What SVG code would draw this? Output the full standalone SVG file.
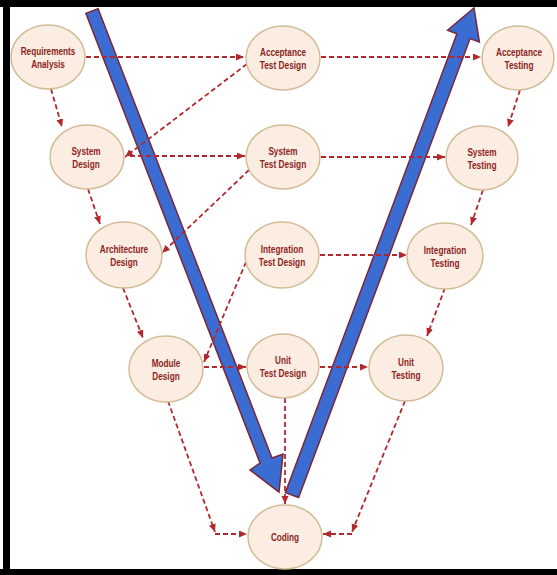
<svg xmlns="http://www.w3.org/2000/svg" width="557" height="575" viewBox="0 0 557 575">
<style>
.node ellipse{fill:#fbede2;stroke:#d2bd98;stroke-width:1.5}
.node text{font-family:"Liberation Sans",Arial,sans-serif;font-weight:bold;font-size:10px;fill:#8e1f22;text-anchor:middle}
.conn path{fill:none;stroke:#b3282c;stroke-width:1.8;stroke-dasharray:5 3;marker-end:url(#ah)}
.big{fill:#3a6cd2;stroke:#7a2636;stroke-width:1.5;stroke-linejoin:miter}
</style>
<defs>
<marker id="ah" markerUnits="userSpaceOnUse" markerWidth="9" markerHeight="8" refX="8" refY="3.5" orient="auto">
<path d="M0,0 L8,3.5 L0,7 z" fill="#b3282c"/>
</marker>
</defs>
<rect x="0" y="0" width="557" height="575" fill="#ffffff"/>
<g id="frame" fill="#000">
<rect x="0" y="0" width="557" height="7"/>
<rect x="3" y="0" width="7" height="575"/>
<rect x="0" y="569" width="557" height="6"/>
</g>
<g id="flow-arrows">
<polygon id="down-arrow" class="big" points="98.1,8.7 272,458 283,454 279,492 250,470 260,463 85.9,13.4"/>
<polygon id="up-arrow" class="big" points="285.4,492.6 456.9,33.7 447.6,30.2 474,8 479.4,42.1 470.1,38.6 298.6,497.5"/>
</g>
<g id="connectors" class="conn">
<path d="M86,57 H244"/>
<path d="M321,57 H481"/>
<path d="M51,89 L62,127"/>
<path d="M247,64 L125,157"/>
<path d="M130,156 H245"/>
<path d="M321,157 H445"/>
<path d="M520,90 L508,127"/>
<path d="M88,189 L100,224"/>
<path d="M249,170 L162,253"/>
<path d="M483,190 L471,225"/>
<path d="M320,255 H407"/>
<path d="M123,288 L143,338"/>
<path d="M246,262 L204,362"/>
<path d="M204,367 H246"/>
<path d="M320,367 H368"/>
<path d="M445,288 L427,336"/>
<path d="M168,401 L215,532"/>
<path d="M215,534 H247"/>
<path d="M285,398 V504"/>
<path d="M405,401 L352,532"/>
<path d="M352,534 H323"/>
</g>
<g id="req" class="node"><ellipse cx="48" cy="57" rx="37" ry="32"/><text x="48" y="55" textLength="54.7" lengthAdjust="spacingAndGlyphs">Requirements</text><text x="48" y="68" textLength="33.7" lengthAdjust="spacingAndGlyphs">Analysis</text></g>
<g id="atd" class="node"><ellipse cx="283" cy="58" rx="37" ry="32"/><text x="283" y="56" textLength="46" lengthAdjust="spacingAndGlyphs">Acceptance</text><text x="283" y="69" textLength="46.5" lengthAdjust="spacingAndGlyphs">Test Design</text></g>
<g id="at" class="node"><ellipse cx="518" cy="58" rx="36" ry="32"/><text x="519" y="56" textLength="46" lengthAdjust="spacingAndGlyphs">Acceptance</text><text x="519" y="69" textLength="29.2" lengthAdjust="spacingAndGlyphs">Testing</text></g>
<g id="sd" class="node"><ellipse cx="87" cy="157" rx="37" ry="32"/><text x="86" y="155" textLength="29.2" lengthAdjust="spacingAndGlyphs">System</text><text x="86" y="168" textLength="27.3" lengthAdjust="spacingAndGlyphs">Design</text></g>
<g id="std" class="node"><ellipse cx="283" cy="157" rx="37" ry="32"/><text x="283" y="155" textLength="29.2" lengthAdjust="spacingAndGlyphs">System</text><text x="283" y="168" textLength="46.5" lengthAdjust="spacingAndGlyphs">Test Design</text></g>
<g id="st" class="node"><ellipse cx="482" cy="158" rx="36" ry="32"/><text x="482" y="156" textLength="29.2" lengthAdjust="spacingAndGlyphs">System</text><text x="482" y="169" textLength="29.2" lengthAdjust="spacingAndGlyphs">Testing</text></g>
<g id="ad" class="node"><ellipse cx="124" cy="255" rx="38" ry="33"/><text x="124" y="253" textLength="48.3" lengthAdjust="spacingAndGlyphs">Architecture</text><text x="124" y="266" textLength="27.3" lengthAdjust="spacingAndGlyphs">Design</text></g>
<g id="itd" class="node"><ellipse cx="282" cy="255" rx="37" ry="33"/><text x="282" y="253" textLength="42.4" lengthAdjust="spacingAndGlyphs">Integration</text><text x="282" y="266" textLength="46.5" lengthAdjust="spacingAndGlyphs">Test Design</text></g>
<g id="it" class="node"><ellipse cx="445" cy="256" rx="38" ry="33"/><text x="445" y="254" textLength="42.4" lengthAdjust="spacingAndGlyphs">Integration</text><text x="445" y="267" textLength="29.2" lengthAdjust="spacingAndGlyphs">Testing</text></g>
<g id="md" class="node"><ellipse cx="166" cy="369" rx="37" ry="33"/><text x="166" y="367" textLength="28.7" lengthAdjust="spacingAndGlyphs">Module</text><text x="166" y="380" textLength="27.3" lengthAdjust="spacingAndGlyphs">Design</text></g>
<g id="utd" class="node"><ellipse cx="283" cy="366" rx="36" ry="32"/><text x="283" y="364" textLength="15.9" lengthAdjust="spacingAndGlyphs">Unit</text><text x="283" y="377" textLength="46.5" lengthAdjust="spacingAndGlyphs">Test Design</text></g>
<g id="ut" class="node"><ellipse cx="406" cy="368" rx="37" ry="33"/><text x="406" y="366" textLength="15.9" lengthAdjust="spacingAndGlyphs">Unit</text><text x="406" y="379" textLength="29.2" lengthAdjust="spacingAndGlyphs">Testing</text></g>
<g id="coding" class="node"><ellipse cx="285" cy="537" rx="37" ry="32"/><text x="285" y="541" textLength="28.2" lengthAdjust="spacingAndGlyphs">Coding</text></g>
</svg>
